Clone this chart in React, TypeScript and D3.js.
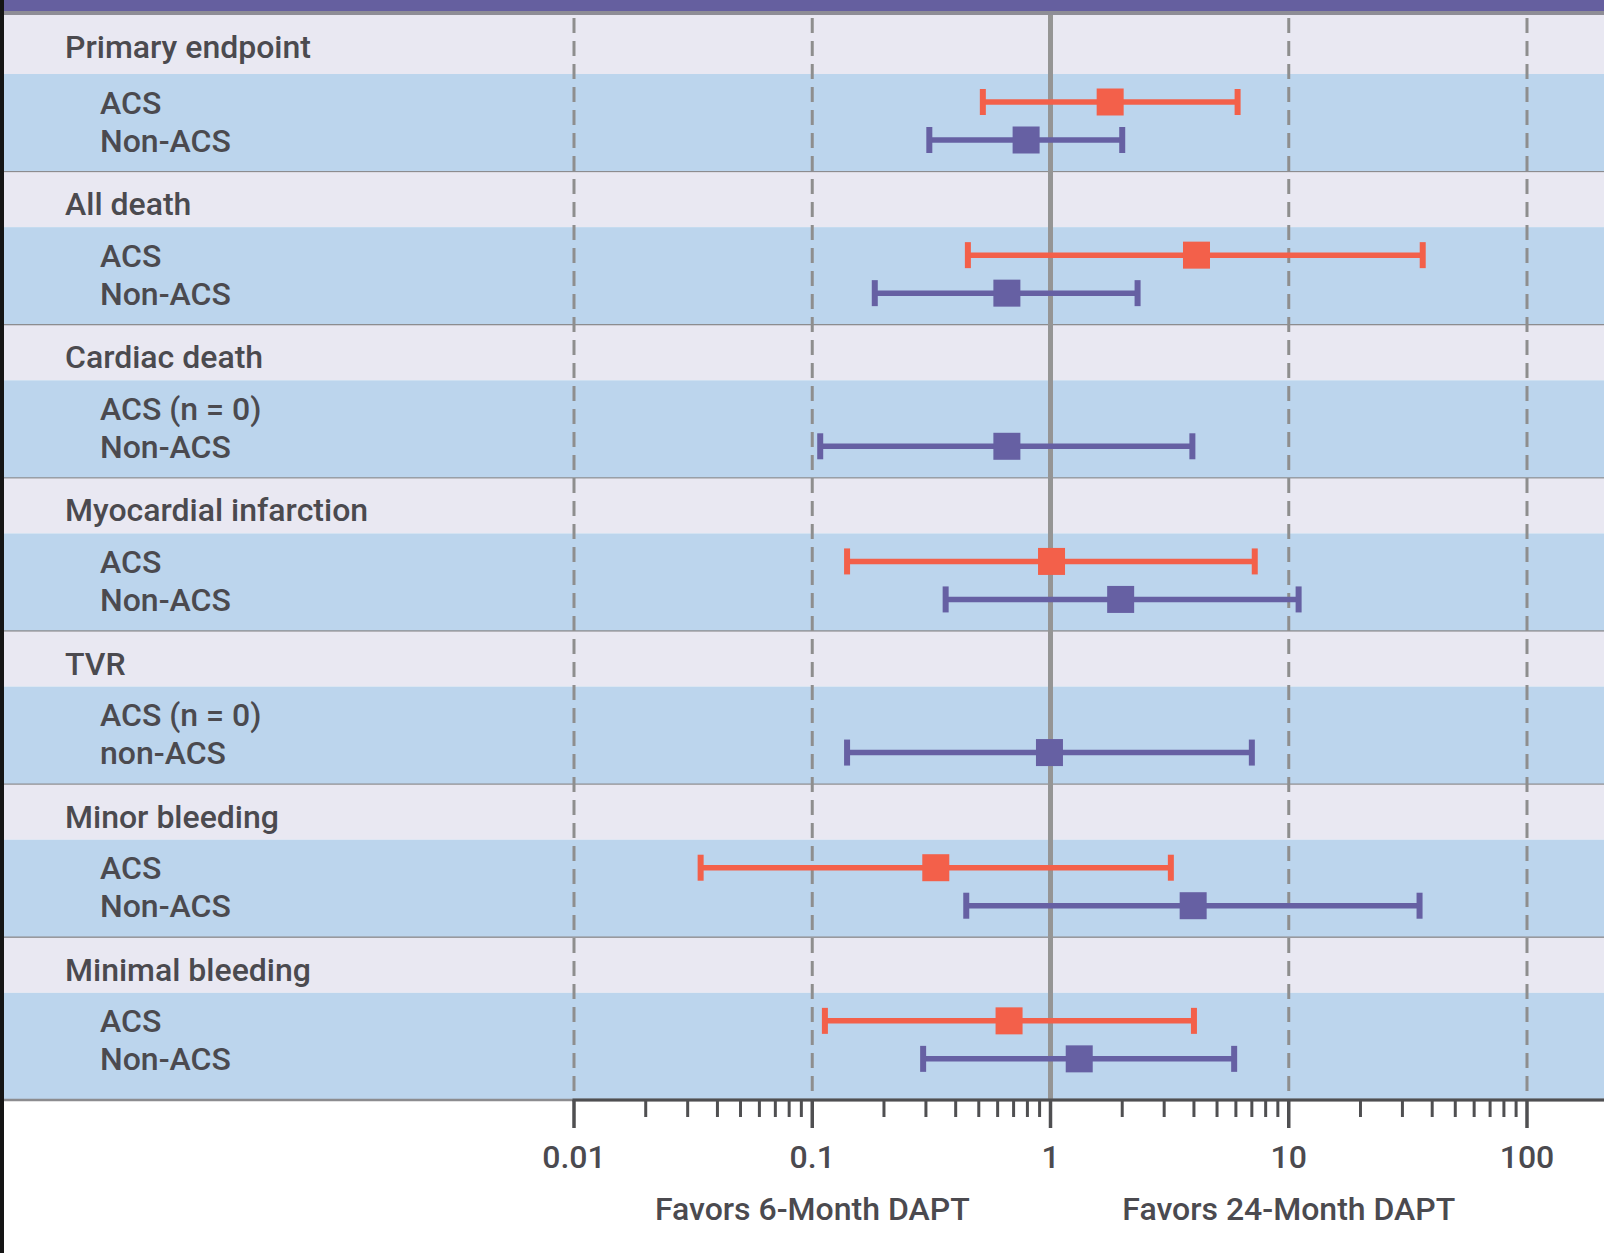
import React from "react";
import * as d3 from "d3";

// outcome groups and the two subgroup labels per group
const groups = [
  "Primary endpoint",
  "All death",
  "Cardiac death",
  "Myocardial infarction",
  "TVR",
  "Minor bleeding",
  "Minimal bleeding",
];
const acsLabels = ["ACS", "ACS", "ACS (n = 0)", "ACS", "ACS (n = 0)", "ACS", "ACS"];
const nonAcsLabels = ["Non-ACS", "Non-ACS", "Non-ACS", "Non-ACS", "non-ACS", "Non-ACS", "Non-ACS"];

// hazard ratios with 95% CI (null = no events)
const acsEstimate = [1.78, 4.1, null, 1.01, null, 0.33, 0.67];
const acsLower = [0.52, 0.45, null, 0.14, null, 0.034, 0.113];
const acsUpper = [6.1, 36.5, null, 7.2, null, 3.2, 4.0];
const nonAcsEstimate = [0.79, 0.656, 0.656, 1.97, 0.99, 3.97, 1.32];
const nonAcsLower = [0.31, 0.183, 0.108, 0.363, 0.14, 0.443, 0.292];
const nonAcsUpper = [2.0, 2.32, 3.94, 11.0, 7.0, 35.4, 5.9];

const tickValues = [0.01, 0.1, 1, 10, 100];
const tickLabels = ["0.01", "0.1", "1", "10", "100"];
const favorValues = [0.1, 10];
const favorLabels = ["Favors 6-Month DAPT", "Favors 24-Month DAPT"];

const W = 1604;
const H = 1253;
const AXIS_Y = 1100;
const FONT = "Roboto, 'Noto Sans', sans-serif";
const TEXT = "#4b4a4f";
const RED = "#f3604a";
const PURPLE = "#6660a3";

export default function App() {
  const x = d3.scaleLog().domain([0.01, 100]).range([574, 1527]);
  const y = d3.scaleBand<string>().domain(groups).range([19, 1091]).padding(0);
  const step = y.step();
  const headerH = 55;

  const rows: { g: number; label: string; est: number | null; lo: number | null; hi: number | null; color: string; dy: number }[] = [];
  groups.forEach((g, i) => {
    rows.push({ g: i, label: acsLabels[i], est: acsEstimate[i], lo: acsLower[i], hi: acsUpper[i], color: RED, dy: 83 });
    rows.push({ g: i, label: nonAcsLabels[i], est: nonAcsEstimate[i], lo: nonAcsLower[i], hi: nonAcsUpper[i], color: PURPLE, dy: 121 });
  });

  const allTicks = x.ticks();
  const isMajor = (v: number) => Math.abs(Math.log10(v) - Math.round(Math.log10(v))) < 1e-6;

  return (
    <svg
      width={W}
      height={H}
      style={{ position: "absolute", left: 0, top: 0, display: "block", background: "#fff" }}
      fontFamily={FONT}
      fontWeight={500}
    >
      {/* bands */}
      {groups.map((g, i) => {
        const top = y(g)!;
        const bottom = i === groups.length - 1 ? AXIS_Y : top + step;
        return (
          <g key={g}>
            <rect x={0} y={i === 0 ? 11 : top} width={W} height={(i === 0 ? top - 11 : 0) + headerH} fill="#e9e8f2" />
            <rect x={0} y={top + headerH} width={W} height={bottom - top - headerH} fill="#bcd5ed" />
            <line x1={0} x2={W} y1={bottom} y2={bottom} stroke="#8c8c8f" strokeWidth={2.5} />
          </g>
        );
      })}

      {/* dashed reference lines */}
      {tickValues.filter((v) => v !== 1).map((v) => (
        <line key={v} x1={x(v)} x2={x(v)} y1={18} y2={AXIS_Y} stroke="#8e8e8e" strokeWidth={3} strokeDasharray="15 8" />
      ))}
      <line x1={x(1)} x2={x(1)} y1={15} y2={AXIS_Y} stroke="#959595" strokeWidth={5} />

      {/* group headers */}
      {groups.map((g, i) => (
        <text key={g} x={65} y={y(g)! + (i === 0 ? 39 : 43)} fontSize={32} fill={TEXT}>
          {g}
        </text>
      ))}

      {/* rows */}
      {rows.map((r, i) => {
        const cy = y(groups[r.g])! + r.dy;
        return (
          <g key={i}>
            <text x={100} y={cy + 11.5} fontSize={32} fill={TEXT}>
              {r.label}
            </text>
            {r.est !== null && r.lo !== null && r.hi !== null && (
              <g fill={r.color} stroke="none">
                <line x1={x(r.lo)} x2={x(r.hi)} y1={cy} y2={cy} stroke={r.color} strokeWidth={5.5} />
                <rect x={x(r.lo) - 3} y={cy - 13} width={6} height={26} />
                <rect x={x(r.hi) - 3} y={cy - 13} width={6} height={26} />
                <rect x={x(r.est) - 13.5} y={cy - 13.5} width={27} height={27} />
              </g>
            )}
          </g>
        );
      })}

      {/* axis */}
      <line x1={x(0.01) - 1.5} x2={W} y1={AXIS_Y} y2={AXIS_Y} stroke="#4f4f51" strokeWidth={3} />
      {allTicks.map((v) => (
        <line
          key={v}
          x1={x(v)}
          x2={x(v)}
          y1={AXIS_Y}
          y2={AXIS_Y + (isMajor(v) ? 28 : 17)}
          stroke="#4f4f51"
          strokeWidth={isMajor(v) ? 3.5 : 3}
        />
      ))}
      {tickValues.map((v, i) => (
        <text key={v} x={x(v)} y={1168} fontSize={32} fill={TEXT} textAnchor="middle">
          {tickLabels[i]}
        </text>
      ))}
      {favorValues.map((v, i) => (
        <text key={v} x={x(v)} y={1220} fontSize={32} fill={TEXT} textAnchor="middle">
          {favorLabels[i]}
        </text>
      ))}

      {/* top band and left border */}
      <rect x={0} y={0} width={W} height={11} fill="#655f9f" />
      <rect x={0} y={11} width={W} height={4} fill="#8e8d96" />
      <rect x={0} y={0} width={4} height={H} fill="#151515" />
    </svg>
  );
}
